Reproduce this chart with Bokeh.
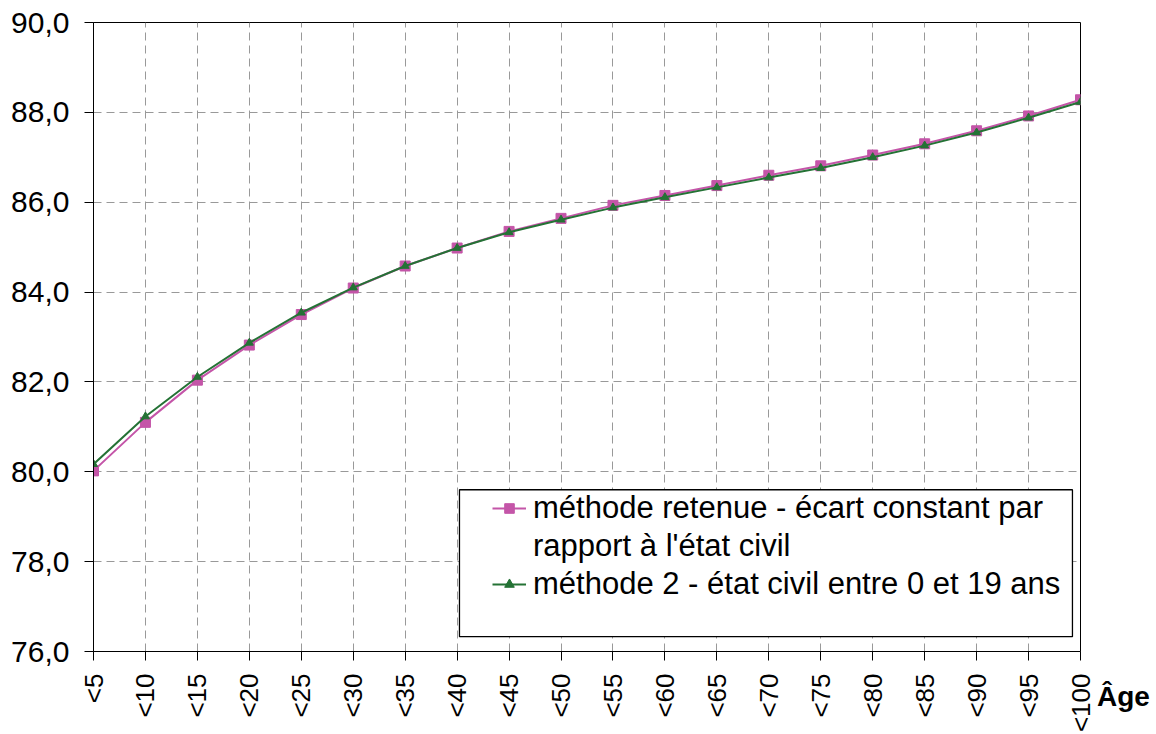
from bokeh.plotting import figure
from bokeh.models import (Legend, LegendItem, FixedTicker, BoxAnnotation, Range1d)
from bokeh.embed import file_html
from bokeh.resources import INLINE

categories = ["<5", "<10", "<15", "<20", "<25", "<30", "<35", "<40", "<45", "<50",
              "<55", "<60", "<65", "<70", "<75", "<80", "<85", "<90", "<95", "<100"]
methode_retenue = [80.02, 81.10, 82.04, 82.82, 83.50, 84.09, 84.58, 84.98, 85.35, 85.64,
                   85.93, 86.15, 86.37, 86.60, 86.81, 87.05, 87.30, 87.59, 87.92, 88.28]
methode_2 = [80.17, 81.23, 82.11, 82.87, 83.54, 84.10, 84.58, 84.98, 85.33, 85.61,
             85.88, 86.11, 86.33, 86.55, 86.76, 87.00, 87.26, 87.55, 87.88, 88.23]
y_ticks = [76, 78, 80, 82, 84, 86, 88, 90]
y_tick_labels = ["76,0", "78,0", "80,0", "82,0", "84,0", "86,0", "88,0", "90,0"]
label_1a = "méthode retenue - écart constant par"
label_1b = "rapport à l'état civil"
label_2 = "méthode 2 - état civil entre 0 et 19 ans"
x_title = "Âge"

FONT = "Liberation Sans"
xs = list(range(len(categories)))

p = figure(width=1156, height=734, output_backend="svg", toolbar_location=None,
           x_range=Range1d(0, len(categories) - 1), y_range=Range1d(76, 90),
           min_border_left=93, min_border_right=76, min_border_top=22, min_border_bottom=83)
p.frame_width = 987
p.frame_height = 629

p.outline_line_color = "#000000"
p.outline_line_width = 1
p.background_fill_color = "white"
p.border_fill_color = "white"

# axes
p.xaxis.ticker = FixedTicker(ticks=xs)
p.xaxis.major_label_overrides = {i: c for i, c in enumerate(categories)}
p.xaxis.major_label_orientation = 1.5708
p.yaxis.ticker = FixedTicker(ticks=y_ticks)
p.yaxis.major_label_overrides = {t: l for t, l in zip(y_ticks, y_tick_labels)}
for ax in (p.xaxis, p.yaxis):
    ax.axis_line_color = "#000000"
    ax.axis_line_width = 1
    ax.major_tick_line_color = "#000000"
    ax.major_tick_in = 0
    ax.major_tick_out = 9
    ax.minor_tick_line_color = None
    ax.major_label_text_font = FONT
    ax.major_label_text_color = "#000000"
p.yaxis.major_label_text_font_size = "30px"
p.xaxis.major_label_text_font_size = "26px"
p.yaxis.major_label_standoff = 15
p.xaxis.major_label_standoff = 13

# grid
p.xgrid.grid_line_color = "#999999"
p.ygrid.grid_line_color = "#999999"
p.xgrid.grid_line_dash = "8 5"
p.ygrid.grid_line_dash = "8 5"
p.xgrid.grid_line_width = 1
p.ygrid.grid_line_width = 1

mag = "#C455A8"
grn = "#247235"

r1l = p.line(xs, methode_retenue, line_color=mag, line_width=2)
r1m = p.scatter(xs, methode_retenue, marker="square", size=10, fill_color=mag,
                line_color=mag)
r2l = p.line(xs, methode_2, line_color=grn, line_width=2)
r2m = p.scatter(xs, methode_2, marker="triangle", size=8, fill_color=grn, line_color=grn)
# invisible placeholder renderer for text-only legend entries
r_blank = p.line([], [], line_alpha=0)

# legend frame
box = BoxAnnotation(left=7.045, right=18.845, bottom=76.33, top=79.60,
                    fill_color="white", fill_alpha=1.0, line_color="#000000",
                    line_alpha=1.0, line_width=1.3, level="annotation")
p.add_layout(box)

legend = Legend(items=[LegendItem(label=label_1a, renderers=[r1l, r1m]),
                       LegendItem(label=label_1b, renderers=[r_blank]),
                       LegendItem(label=label_2, renderers=[r2l, r2m])],
                location=(399, 49), orientation="vertical",
                label_text_font=FONT, label_text_font_size="31px",
                label_text_color="#000000",
                glyph_width=34, glyph_height=24, label_standoff=7,
                spacing=2, padding=0, margin=0,
                border_line_color=None, background_fill_alpha=0.0)
p.add_layout(legend)

# axis title "Âge" at the right end of the x axis (side panel, so it is not clipped)
age = Legend(items=[LegendItem(label=x_title, renderers=[r_blank])],
             location=(17, -62), orientation="vertical",
             label_text_font=FONT, label_text_font_size="28px",
             label_text_font_style="bold", label_text_color="#000000",
             glyph_width=0, glyph_height=20, label_standoff=0,
             spacing=0, padding=0, margin=0,
             border_line_color=None, background_fill_alpha=0.0)
p.add_layout(age, "right")

open("out.html", "w").write(file_html(p, INLINE))
